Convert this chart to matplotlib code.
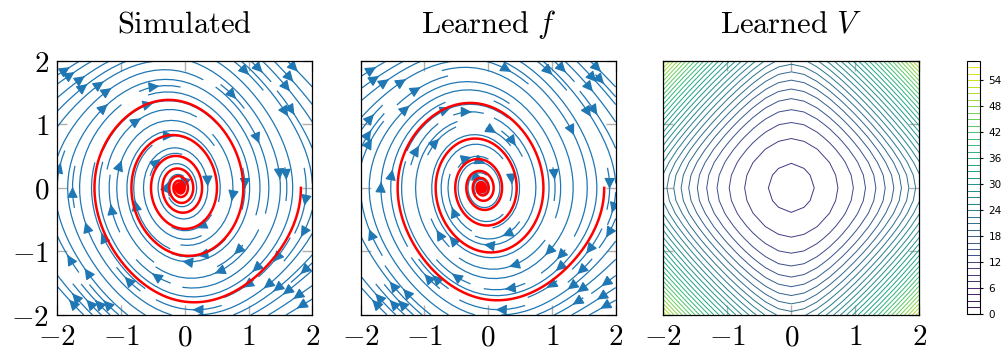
import numpy as np
import matplotlib
matplotlib.use('Agg')
import matplotlib.pyplot as plt

plt.rcParams['mathtext.fontset'] = 'cm'

# damped pendulum: x' = y, y' = -gain*sin(x - shift) - damp*y
SIM_GAIN, SIM_DAMP, SIM_SHIFT = 1.6, 0.20, -0.08     # true system
LRN_GAIN, LRN_DAMP, LRN_SHIFT = 1.55, 0.21, -0.10    # fitted model
START = (1.82, 0.0)                                  # initial state of the rollout

# learned Lyapunov function: round bowl near the origin, octagonal at the rim
V_FLOOR, V_XX, V_YY = 8.5, 3.7, 3.3
V_CROSS, V_SOFT = 5.5, 1.0
V_LEVELS = np.arange(0, 59, 1.5)
CBAR_TICKS = [0, 6, 12, 18, 24, 30, 36, 42, 48, 54]
AX_TICKS = [-2, -1, 0, 1, 2]

TITLES = [r'$\mathrm{Simulated}$', r'$\mathrm{Learned}\ f$', r'$\mathrm{Learned}\ V$']
BLUE = '#1f77b4'


def field(x, y, gain, damp, shift):
    return y, -gain * np.sin(x - shift) - damp * y


def rollout(gain, damp, shift, x0, dt=0.01, steps=8000):
    """RK4 rollout of the pendulum from x0."""
    f = lambda q: np.array(field(q[0], q[1], gain, damp, shift))
    p = np.array(x0, dtype=float)
    out = [p.copy()]
    for _ in range(steps):
        k1 = f(p)
        k2 = f(p + dt / 2 * k1)
        k3 = f(p + dt / 2 * k2)
        k4 = f(p + dt * k3)
        p = p + dt / 6 * (k1 + 2 * k2 + 2 * k3 + k4)
        out.append(p.copy())
    return np.array(out)


def lyapunov(x, y):
    # soft |xy| term only matters away from the origin
    cross = np.sqrt((x * y) ** 2 + V_SOFT ** 2) - V_SOFT
    return V_FLOOR + V_XX * x ** 2 + V_YY * y ** 2 + V_CROSS * cross


def style(ax, ylabels=True):
    ax.set_xlim(-2, 2)
    ax.set_ylim(-2, 2)
    ax.set_xticks(AX_TICKS)
    ax.set_yticks(AX_TICKS)
    ax.set_xticklabels([f'${t}$' for t in AX_TICKS])
    if ylabels:
        ax.set_yticklabels([f'${t}$' for t in AX_TICKS])
    else:
        ax.set_yticklabels([])
    ax.tick_params(direction='in', length=7, width=1, color='#b0b0b0',
                   top=True, right=True, labelsize=21, pad=6)
    for s in ax.spines.values():
        s.set_linewidth(0.9)


fig = plt.figure(figsize=(10.08, 3.5), dpi=100)
ax1 = fig.add_axes([0.0569, 0.100, 0.253, 0.7266])
ax2 = fig.add_axes([0.3578, 0.100, 0.253, 0.7266])
ax3 = fig.add_axes([0.6580, 0.100, 0.254, 0.7266])
cax = fig.add_axes([0.9597, 0.103, 0.0126, 0.7237])

g = np.linspace(-2, 2, 40)
X, Y = np.meshgrid(g, g)
for ax, (gain, damp, shift), title in zip(
        (ax1, ax2),
        ((SIM_GAIN, SIM_DAMP, SIM_SHIFT), (LRN_GAIN, LRN_DAMP, LRN_SHIFT)),
        TITLES[:2]):
    U, W = field(X, Y, gain, damp, shift)
    ax.streamplot(X, Y, U, W, density=1, color=BLUE, linewidth=0.9, arrowsize=1.6)
    traj = rollout(gain, damp, shift, START)
    ax.plot(traj[:, 0], traj[:, 1], color='red', lw=1.8, zorder=3)
    ax.set_title(title, fontsize=22, pad=20)

style(ax1)
style(ax2, ylabels=False)

# V sampled on a coarse grid, the way the network was evaluated
gv = np.linspace(-2, 2, 21)
XV, YV = np.meshgrid(gv, gv)
cs = ax3.contour(XV, YV, lyapunov(XV, YV), levels=V_LEVELS, cmap='viridis', linewidths=0.7)
ax3.set_title(TITLES[2], fontsize=22, pad=20)
style(ax3, ylabels=False)

cb = fig.colorbar(cs, cax=cax, ticks=CBAR_TICKS)
cax.tick_params(labelsize=7.5, length=2.5)
cb.outline.set_linewidth(0.8)

fig.savefig('out.png', dpi=100)
